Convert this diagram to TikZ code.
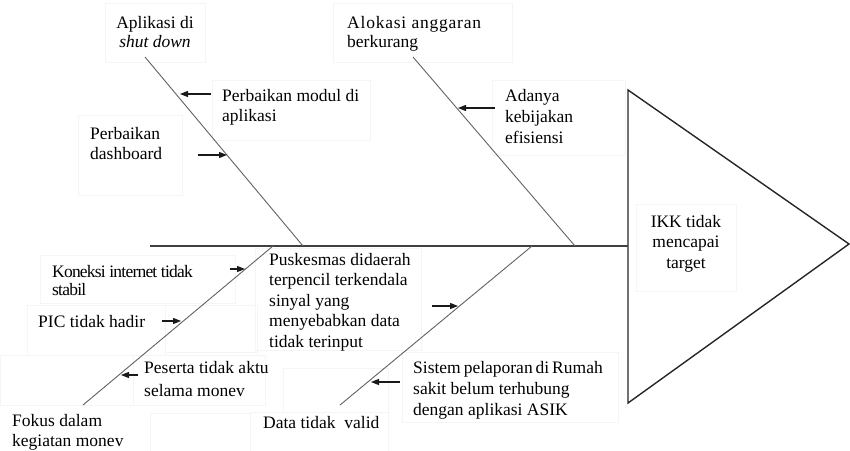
\documentclass[tikz,border=0pt]{standalone}
\usepackage{fontspec}
\setmainfont{Liberation Serif}
\usetikzlibrary{arrows.meta}
\begin{document}
\begin{tikzpicture}[x=1pt,y=-1pt,
  lbl/.style={inner sep=0pt,font=\fontsize{17.5}{20.5}\selectfont,align=left,anchor=base west},
  clbl/.style={lbl,align=center,anchor=base},
  bone/.style={draw=black!62,line width=0.9pt},
  spine/.style={draw=black!75,line width=1.1pt},
  cause/.style={-{Triangle[length=8pt,width=6pt]},line width=1.2pt,draw=black!90},
  faint/.style={draw=black!4,line width=0.6pt}]
\useasboundingbox (0,0) rectangle (850,450);
% faint text frames
\draw[faint] (105,3) rectangle (205,62);
\draw[faint] (212,80) rectangle (370,140);
\draw[faint] (78,115) rectangle (182,195);
\draw[faint] (333,3) rectangle (512,62);
\draw[faint] (492,80) rectangle (625,155);
\draw[faint] (636,204) rectangle (736,291);
\draw[faint] (40,255) rectangle (235,303);
\draw[faint] (27,305) rectangle (165,355);
\draw[faint] (165,305) rectangle (257,352);
\draw[faint] (255,248) rectangle (421,350);
\draw[faint] (0,355) rectangle (133,405);
\draw[faint] (133,355) rectangle (265,405);
\draw[faint] (150,413) rectangle (250,452);
\draw[faint] (283,368) rectangle (388,412);
\draw[faint] (250,412) rectangle (388,452);
\draw[faint] (402,352) rectangle (618,422);
% head triangle
\coordinate (tA) at (628,90);
\coordinate (tB) at (849,244);
\coordinate (tC) at (628,403);
\draw[line width=1.4pt,draw=black!85] (tA) -- (tB) -- (tC) -- cycle;
% spine
\coordinate (s0) at (150,246);
\coordinate (s1) at (628,246);
\draw[spine] (s0) -- (s1);
% bones
\coordinate (b1a) at (145,57);  \coordinate (b1b) at (303,246);
\coordinate (b2a) at (413,57);  \coordinate (b2b) at (575,246);
\coordinate (b3a) at (83,405);  \coordinate (b3b) at (273,246);
\coordinate (b4a) at (340,405); \coordinate (b4b) at (532,246);
\draw[bone] (b1a) -- (b1b);
\draw[bone] (b2a) -- (b2b);
\draw[bone] (b3a) -- (b3b);
\draw[bone] (b4a) -- (b4b);
% labels (anchored at the baseline of their last line)
\node[clbl,font=\fontsize{17.5}{19}\selectfont] (shut) at (155,47) {Aplikasi di\\\textit{shut down}};
\node[lbl,font=\fontsize{17.5}{20}\selectfont] (modul) at (222,121) {Perbaikan modul di\\aplikasi};
\node[lbl,font=\fontsize{17.5}{20}\selectfont] (dash) at (90,159) {Perbaikan\\dashboard};
\node[lbl,font=\fontsize{17.5}{19}\selectfont] (alok) at (347,47) {{\addfontfeatures{LetterSpace=4.5}Alokasi anggaran}\\berkurang};
\node[lbl,font=\fontsize{17.5}{21}\selectfont] (adanya) at (505,143) {Adanya\\kebijakan\\efisiensi};
\node[clbl] (ikk) at (686,268) {IKK tidak\\mencapai\\target};
\node[lbl,font=\fontsize{17.5}{18}\selectfont\addfontfeatures{LetterSpace=-4.5}] (kon) at (52,295) {Koneksi internet tidak\\stabil};
\node[lbl] (pic) at (38,327) {PIC tidak hadir};
\node[lbl,font=\fontsize{17.5}{23}\selectfont] (pes) at (144,396) {Peserta tidak aktu\\selama monev};
\node[lbl,font=\fontsize{17.5}{19.5}\selectfont] (fok) at (12,446) {Fokus dalam\\kegiatan monev};
\node[lbl] (pusk) at (269,347) {Puskesmas didaerah\\terpencil terkendala\\sinyal yang\\menyebabkan data\\tidak terinput};
\node[lbl] (data) at (263,428) {Data tidak\ \ valid};
\node[lbl,font=\fontsize{17.5}{21}\selectfont] (sis) at (413,415) {\makebox[187pt][s]{Sistem pelaporan di Rumah}\\sakit belum terhubung\\dengan aplikasi ASIK};
% cause arrows
\coordinate (a1s) at (211,94);  \coordinate (a1e) at (180,94);
\coordinate (a2s) at (198,155); \coordinate (a2e) at (227,155);
\coordinate (a3s) at (495,108); \coordinate (a3e) at (458,108);
\coordinate (a4s) at (230,269); \coordinate (a4e) at (245,269);
\coordinate (a5s) at (162,321); \coordinate (a5e) at (181,321);
\coordinate (a6s) at (138,375); \coordinate (a6e) at (121,375);
\coordinate (a7s) at (432,306); \coordinate (a7e) at (458,306);
\coordinate (a8s) at (400,382); \coordinate (a8e) at (371,382);
\draw[cause] (a1s) -- (a1e);
\draw[cause] (a2s) -- (a2e);
\draw[cause] (a3s) -- (a3e);
\draw[cause] (a4s) -- (a4e);
\draw[cause] (a5s) -- (a5e);
\draw[cause] (a6s) -- (a6e);
\draw[cause] (a7s) -- (a7e);
\draw[cause] (a8s) -- (a8e);
\end{tikzpicture}
\end{document}
